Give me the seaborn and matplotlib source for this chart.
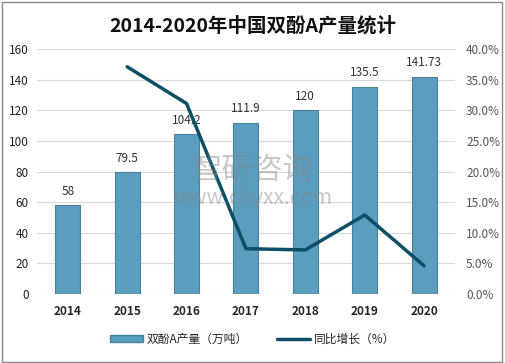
import matplotlib.pyplot as plt
import pandas as pd
import seaborn as sns
from matplotlib.patches import Rectangle

years = ["2014", "2015", "2016", "2017", "2018", "2019", "2020"]
output = [58, 79.5, 104.2, 111.9, 120, 135.5, 141.73]
output_labels = ["58", "79.5", "104.2", "111.9", "120", "135.5", "141.73"]
growth_years = ["2015", "2016", "2017", "2018", "2019", "2020"]
growth = [37.1, 31.1, 7.4, 7.2, 12.9, 4.6]

sns.set_theme(style="white")
plt.rcParams['font.family'] = ['Noto Sans CJK SC', 'DejaVu Sans']

bar_color = "#5b9dbf"
line_color = "#0d4f66"

df = pd.DataFrame({"year": years, "output": output})
df_g = pd.DataFrame({"year": growth_years, "growth": growth})
df_g["pos"] = [years.index(y) for y in growth_years]

fig = plt.figure(figsize=(5.05, 3.63), dpi=100)
fig.patches.append(Rectangle((0.004, 0.004), 0.99, 0.99, transform=fig.transFigure,
                             fill=False, edgecolor="#888888", linewidth=1))
ax = fig.add_axes([0.073, 0.19, 0.828, 0.675])

sns.barplot(data=df, x="year", y="output", color=bar_color, width=0.42,
            edgecolor="#4a819c", linewidth=0.8, saturation=1, ax=ax)
for i, (v, lab) in enumerate(zip(output, output_labels)):
    ax.text(i, v + 5, lab, ha="center", va="bottom", fontsize=8.5, color="#333333")

ax.set_ylim(0, 160)
ax.set_yticks(range(0, 161, 20))
ax.set_xlim(-0.52, 6.52)
ax.grid(axis="y", color="#d9d9d9", linewidth=0.8)
ax.set_axisbelow(True)
for s in ax.spines.values():
    s.set_visible(False)
ax.set_xlabel("")
ax.set_ylabel("")
ax.tick_params(axis="y", labelsize=8.5, pad=6, labelcolor="#222222", length=0)
ax.tick_params(axis="x", labelsize=8.5, pad=8, length=0)
for t in ax.get_xticklabels():
    t.set_fontweight("bold")

ax2 = ax.twinx()
sns.lineplot(data=df_g, x="pos", y="growth", color=line_color, linewidth=2.5, ax=ax2)
ax2.set_ylim(0, 40)
ax2.set_yticks(range(0, 41, 5))
ax2.set_yticklabels([f"{v:.1f}%" for v in range(0, 41, 5)])
ax2.tick_params(axis="y", labelsize=8.5, labelcolor="#555555", length=0, pad=8)
for s in ax2.spines.values():
    s.set_visible(False)
ax2.set_xlabel("")
ax2.set_ylabel("")
ax.set_xlim(-0.52, 6.52)

fig.text(0.5, 0.93, "2014-2020年中国双酚A产量统计", ha="center", va="center",
         fontsize=14, fontweight="bold", color="#111111")

# watermark
fig.text(0.5, 0.53, "智研咨询", ha="center", va="center", fontsize=22,
         color="#888888", alpha=0.45)
fig.text(0.5, 0.455, "www.chyxx.com", ha="center", va="center", fontsize=15,
         color="#888888", alpha=0.45)

handles = [Rectangle((0, 0), 1, 1, facecolor=bar_color, edgecolor="#4a819c"),
           plt.Line2D([0], [0], color=line_color, linewidth=2.5)]
fig.legend(handles, ["双酚A产量（万吨）", "同比增长（%）"], loc="center",
           bbox_to_anchor=(0.5, 0.065), ncol=2, frameon=False, fontsize=8.5,
           handlelength=2.8, handleheight=0.6, columnspacing=2.5, handletextpad=0.3)

fig.savefig("out.png", dpi=100)
plt.close(fig)
